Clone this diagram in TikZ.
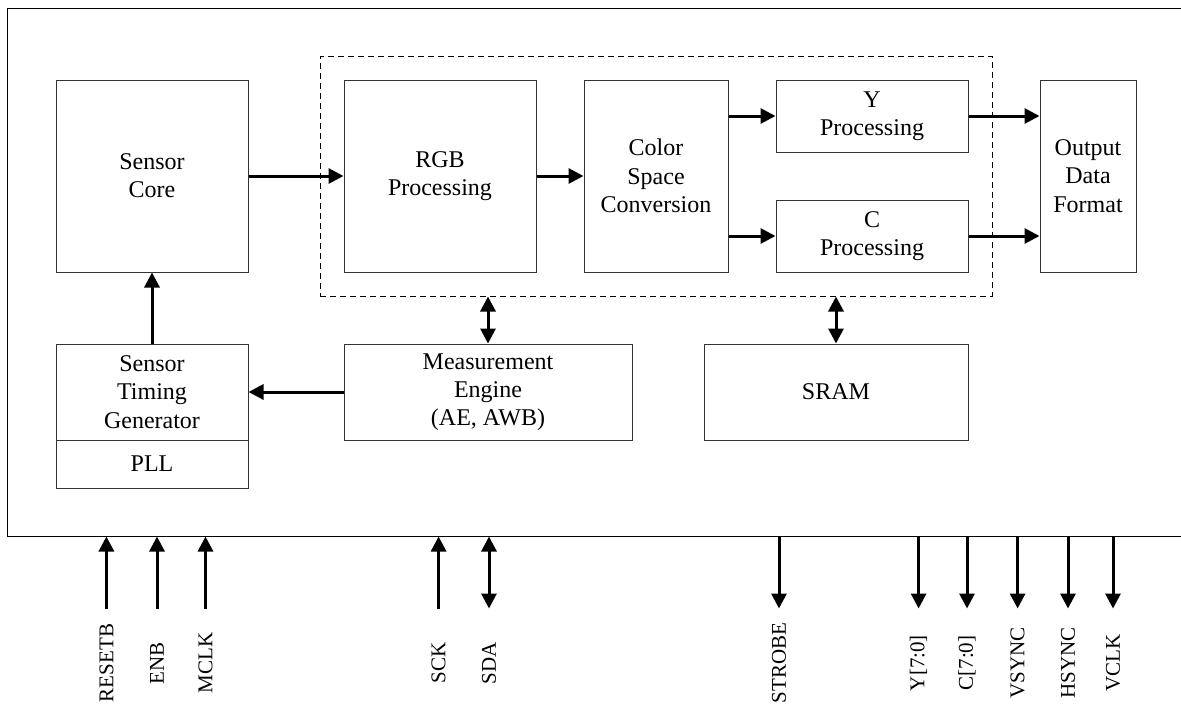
\documentclass[tikz,border=0pt]{standalone}
\usepackage{fontspec}
\setmainfont{Liberation Serif}
\usetikzlibrary{arrows.meta}
\begin{document}
\begin{tikzpicture}[x=1pt,y=-1pt,
  box/.style={draw=black!80, line width=1pt, inner sep=0pt, align=center,
    font=\fontsize{24}{28.3}\selectfont},
  dashbox/.style={draw=black, line width=1pt, dash pattern=on 6pt off 4pt, inner sep=0pt},
  arr/.style={line width=3pt, -{Triangle[length=15pt,width=15pt]}},
  darr/.style={line width=3pt, {Triangle[length=15pt,width=15pt]}-{Triangle[length=15pt,width=15pt]}},
  pinlabel/.style={font=\fontsize{21}{24}\selectfont, rotate=90, inner sep=0pt}]
\useasboundingbox[fill=white] (0,0) rectangle (1181,704);
% outer chip outline (open on the right)
\draw[line width=1pt] (1182,8) -- (7.5,8) -- (7.5,536.5) -- (1182,536.5);
% dashed processing group
\node[dashbox, minimum width=672pt, minimum height=239.5pt] (dsp) at (656,176.25) {};
% blocks
\node[box, minimum width=192pt, minimum height=192pt] (core) at (152,176) {Sensor\\Core};
\node[box, minimum width=192pt, minimum height=192pt] (rgb) at (440,176) {RGB\\Processing};
\node[box, minimum width=144pt, minimum height=192pt] (csc) at (656,176) {Color\\Space\\Conversion};
\node[box, minimum width=192pt, minimum height=72pt] (yp) at (872,116) {Y\\Processing};
\node[box, minimum width=192pt, minimum height=72pt] (cp) at (872,236) {C\\Processing};
\node[box, minimum width=96pt, minimum height=192pt] (odf) at (1088,176) {Output\\Data\\Format};
\node[box, minimum width=192pt, minimum height=96pt] (stg) at (152,392) {Sensor\\Timing\\Generator};
\node[box, minimum width=192pt, minimum height=48pt] (pll) at (152,464) {PLL};
\node[box, minimum width=288pt, minimum height=96pt] (meas) at (488,392) {Measurement\\Engine\\(AE, AWB)};
\node[box, minimum width=264pt, minimum height=96pt] (sram) at (836,392) {SRAM};
% internal connectors
\draw[arr] (core.east) -- (rgb.west);
\draw[arr] (rgb.east) -- (csc.west);
\draw[arr] (csc.east |- yp.west) -- (yp.west);
\draw[arr] (csc.east |- cp.west) -- (cp.west);
\draw[arr] (yp.east) -- (yp.east -| odf.west);
\draw[arr] (cp.east) -- (cp.east -| odf.west);
\draw[arr] (stg.north) -- (core.south);
\draw[arr] (meas.west) -- (stg.east);
\draw[darr] (meas.north) -- (meas.north |- dsp.south);
\draw[darr] (sram.north) -- (sram.north |- dsp.south);
% input pins
\foreach \n/\x/\t in {rst/106.4/RESETB, enb/157/ENB, mclk/205.5/MCLK, sck/438.6/SCK}{
  \coordinate (\n top) at (\x,536.5);
  \coordinate (\n bot) at (\x,608.5);
  \draw[arr] (\n bot) -- (\n top);
  \node[pinlabel] (\n lab) at (\x,663) {\t};
}
% bidirectional pin
\coordinate (sda top) at (489,536.5);
\coordinate (sda bot) at (489,608.5);
\draw[darr] (sda bot) -- (sda top);
\node[pinlabel] (sda lab) at (489,663) {SDA};
% output pins
\foreach \n/\x/\t in {strobe/779/STROBE, ydat/918.6/{Y[7:0]}, cdat/967/{C[7:0]}, vs/1017.6/VSYNC, hs/1068/HSYNC, vclk/1113/VCLK}{
  \coordinate (\n top) at (\x,536.5);
  \coordinate (\n bot) at (\x,608.5);
  \draw[arr] (\n top) -- (\n bot);
  \node[pinlabel] (\n lab) at (\x,663) {\t};
}
\end{tikzpicture}
\end{document}
